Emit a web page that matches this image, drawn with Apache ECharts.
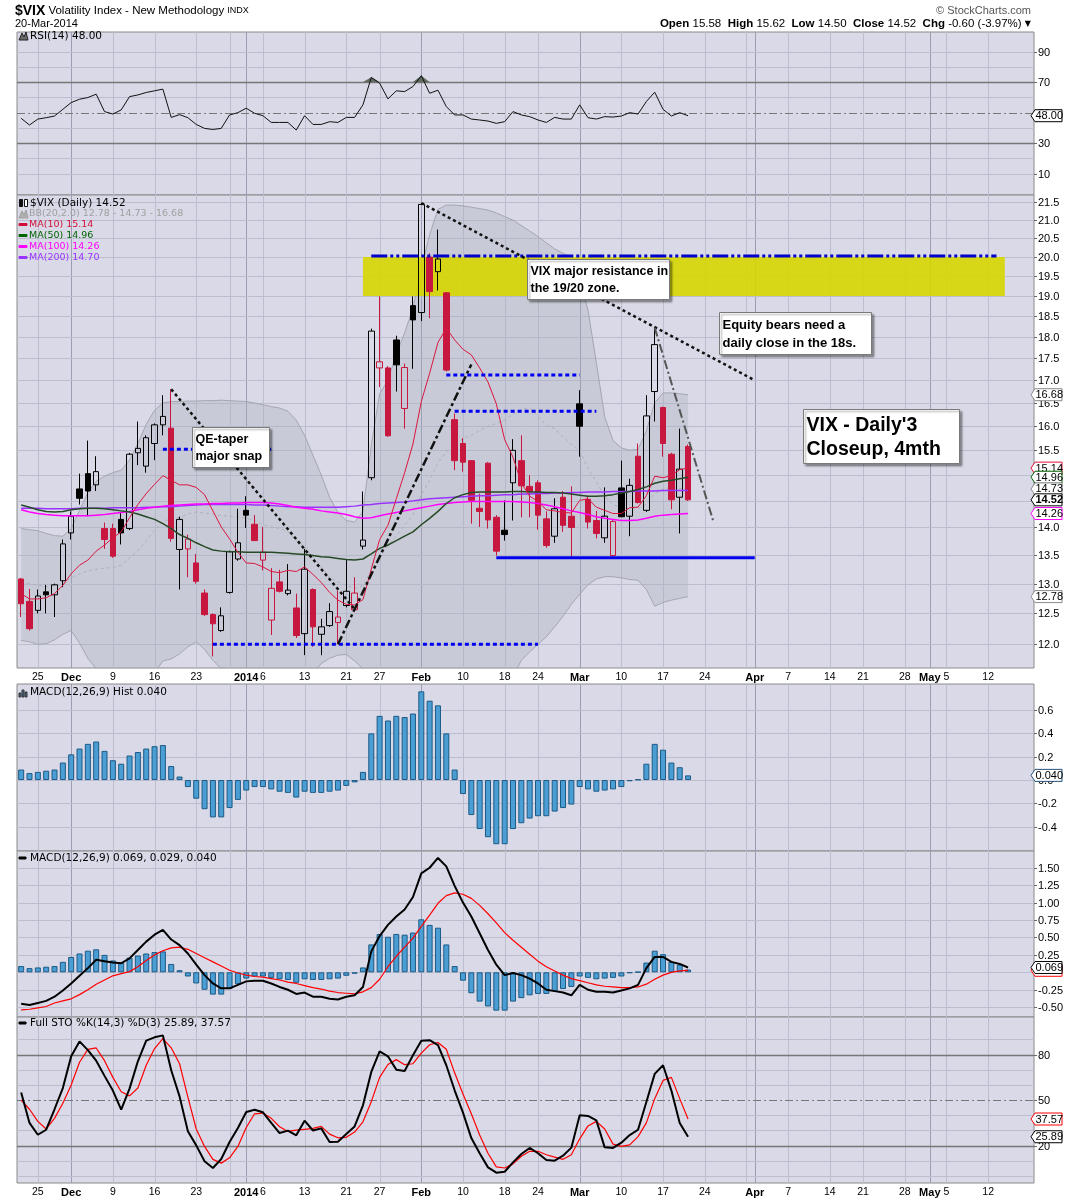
<!DOCTYPE html>
<html><head><meta charset="utf-8">
<script src="https://cdn.jsdelivr.net/npm/echarts@6/dist/echarts.min.js"></script>
<style>html,body{margin:0;padding:0;background:#fff}#c{width:1075px;height:1200px}</style>
</head><body><div id="c"></div><script>
// ---------------- DATA ----------------
const dates = [
'2013-11-21','2013-11-22','2013-11-25','2013-11-26','2013-11-27','2013-11-29',
'2013-12-02','2013-12-03','2013-12-04','2013-12-05','2013-12-06',
'2013-12-09','2013-12-10','2013-12-11','2013-12-12','2013-12-13',
'2013-12-16','2013-12-17','2013-12-18','2013-12-19','2013-12-20',
'2013-12-23','2013-12-24','2013-12-26','2013-12-27','2013-12-30','2013-12-31',
'2014-01-02','2014-01-03',
'2014-01-06','2014-01-07','2014-01-08','2014-01-09','2014-01-10',
'2014-01-13','2014-01-14','2014-01-15','2014-01-16','2014-01-17',
'2014-01-21','2014-01-22','2014-01-23','2014-01-24',
'2014-01-27','2014-01-28','2014-01-29','2014-01-30','2014-01-31',
'2014-02-03','2014-02-04','2014-02-05','2014-02-06','2014-02-07',
'2014-02-10','2014-02-11','2014-02-12','2014-02-13','2014-02-14',
'2014-02-18','2014-02-19','2014-02-20','2014-02-21',
'2014-02-24','2014-02-25','2014-02-26','2014-02-27','2014-02-28',
'2014-03-03','2014-03-04','2014-03-05','2014-03-06','2014-03-07',
'2014-03-10','2014-03-11','2014-03-12','2014-03-13','2014-03-14',
'2014-03-17','2014-03-18','2014-03-19','2014-03-20','2014-03-21',
'2014-03-24','2014-03-25','2014-03-26','2014-03-27','2014-03-28',
'2014-03-31','2014-04-01','2014-04-02','2014-04-03','2014-04-04',
'2014-04-07','2014-04-08','2014-04-09','2014-04-10','2014-04-11',
'2014-04-14','2014-04-15','2014-04-16','2014-04-17',
'2014-04-21','2014-04-22','2014-04-23','2014-04-24','2014-04-25',
'2014-04-28','2014-04-29','2014-04-30','2014-05-01','2014-05-02',
'2014-05-05','2014-05-06','2014-05-07','2014-05-08','2014-05-09',
'2014-05-12','2014-05-13','2014-05-14','2014-05-15','2014-05-16',
'2014-05-19'];

const opens = [13.08,12.70,12.55,12.86,12.81,13.05,13.90,14.73,15.03,14.81,
13.98,13.98,14.15,13.98,15.45,15.18,15.64,16.03,15.96,13.60,
13.61,13.36,12.84,12.48,12.22,12.85,13.43,14.32,14.06,13.41,
12.39,13.03,12.83,12.59,12.17,12.90,12.16,12.30,12.35,12.63,
12.56,13.66,14.95,17.28,17.28,17.93,16.38,18.76,18.59,20.00,
19.62,19.08,16.14,15.64,15.29,14.36,15.24,14.19,13.95,14.85,
15.29,14.78,14.85,14.16,13.84,14.57,14.21,16.48,14.53,14.13,
13.81,13.49,14.75,14.21,15.38,14.32,16.75,16.40,15.42,14.57,
15.58];
const highs = [13.10,12.91,12.90,12.98,13.00,13.78,14.30,15.03,15.70,15.38,
14.09,14.07,14.29,15.45,16.10,15.81,16.06,16.67,16.80,14.20,
13.87,13.52,12.90,12.50,12.60,13.58,14.35,14.59,14.23,14.01,
13.27,13.24,13.34,12.83,13.61,12.92,12.41,12.67,12.88,13.41,
13.11,14.68,18.20,18.99,17.32,18.03,17.38,18.99,21.48,20.10,
20.74,19.10,16.27,15.75,15.30,14.64,15.26,14.23,14.51,15.73,
15.81,15.00,14.90,14.30,14.55,14.69,14.78,16.78,14.60,14.31,
14.76,14.15,15.29,14.93,15.64,16.67,18.22,16.42,15.45,15.95,
15.62];
const lows = [12.44,12.22,12.50,12.50,12.44,12.94,13.78,14.43,14.21,14.69,
13.61,13.45,13.69,13.95,15.20,15.05,15.30,15.81,13.74,12.90,
13.11,13.00,12.46,11.81,12.20,12.83,13.40,13.99,13.76,13.23,
12.15,12.85,12.80,12.10,11.83,11.96,11.83,12.28,12.01,12.60,
12.55,13.60,14.90,16.85,15.78,16.75,15.95,17.26,18.38,18.45,
19.14,17.20,15.10,15.07,14.07,14.01,13.98,13.49,13.76,14.13,
14.19,14.19,13.96,13.63,13.72,13.92,13.47,15.37,13.98,13.80,
13.72,13.45,14.19,13.84,14.45,14.29,16.10,15.37,14.34,13.89,
14.50];
const closes = [12.66,12.25,12.79,12.81,12.98,13.70,14.21,14.55,14.69,15.07,
13.78,13.48,13.90,15.42,15.54,15.76,16.03,16.21,13.80,14.15,
13.79,13.04,12.48,12.33,12.46,13.56,13.72,14.23,13.76,13.55,
12.92,12.87,12.89,12.14,13.25,12.28,12.28,12.53,12.44,12.87,
12.84,13.77,18.14,17.42,15.80,17.35,17.29,18.41,21.44,19.11,
19.95,17.23,15.29,15.26,14.51,14.30,14.14,13.57,13.87,15.50,
14.79,14.68,14.23,13.67,14.35,14.04,14.00,16.00,14.10,13.89,
14.21,14.11,14.20,14.80,14.47,16.22,17.82,15.64,14.52,15.12,
14.52];
const closeBeforeFirst = 13.40;

const ma10 = [12.83,12.74,12.74,12.76,12.83,12.97,13.17,13.32,13.41,13.57,
13.68,13.81,13.92,14.18,14.43,14.64,14.82,14.99,14.90,14.81,
14.81,14.76,14.62,14.31,14.01,13.79,13.55,13.36,13.35,13.29,
13.21,13.19,13.23,13.21,13.29,13.16,13.02,12.85,12.72,12.65,
12.64,12.73,13.25,13.78,14.04,14.54,15.05,15.63,16.53,17.16,
17.87,18.21,17.93,17.71,17.58,17.28,16.96,16.48,15.72,15.36,
14.85,14.59,14.49,14.33,14.31,14.28,14.27,14.51,14.54,14.38,
14.32,14.26,14.26,14.37,14.38,14.60,14.98,14.95,14.99,15.11,
15.14];
const ma50 = [14.42,14.38,14.33,14.30,14.29,14.30,14.33,14.35,14.36,14.36,
14.35,14.33,14.31,14.29,14.25,14.20,14.15,14.07,13.98,13.87,
13.80,13.72,13.65,13.59,13.57,13.56,13.56,13.55,13.55,13.55,
13.55,13.54,13.53,13.52,13.51,13.49,13.47,13.46,13.44,13.42,
13.41,13.43,13.52,13.62,13.68,13.76,13.84,13.92,14.05,14.17,
14.30,14.45,14.56,14.62,14.66,14.67,14.67,14.67,14.67,14.68,
14.68,14.67,14.67,14.66,14.66,14.65,14.63,14.61,14.59,14.59,
14.60,14.62,14.65,14.68,14.72,14.77,14.84,14.88,14.90,14.93,
14.96];
const ma100 = [14.33,14.29,14.26,14.24,14.23,14.22,14.22,14.22,14.22,14.23,
14.24,14.26,14.28,14.30,14.33,14.36,14.38,14.40,14.41,14.42,
14.43,14.44,14.44,14.45,14.45,14.46,14.46,14.47,14.47,14.47,
14.46,14.44,14.41,14.38,14.36,14.34,14.31,14.29,14.27,14.24,
14.20,14.17,14.18,14.22,14.25,14.28,14.31,14.34,14.37,14.40,
14.43,14.45,14.47,14.48,14.49,14.49,14.49,14.49,14.49,14.49,
14.48,14.47,14.45,14.42,14.39,14.35,14.31,14.28,14.24,14.20,
14.17,14.15,14.13,14.13,14.14,14.17,14.21,14.23,14.24,14.25,
14.26];
const ma200 = [14.36,14.36,14.36,14.35,14.35,14.35,14.35,14.36,14.36,14.36,
14.36,14.37,14.37,14.37,14.37,14.38,14.38,14.39,14.39,14.40,
14.41,14.42,14.43,14.43,14.43,14.43,14.43,14.43,14.42,14.42,
14.41,14.40,14.39,14.39,14.38,14.38,14.38,14.38,14.38,14.39,
14.40,14.42,14.43,14.45,14.46,14.47,14.48,14.50,14.52,14.54,
14.55,14.56,14.57,14.58,14.59,14.60,14.60,14.61,14.62,14.62,
14.63,14.63,14.64,14.64,14.65,14.65,14.66,14.66,14.67,14.67,
14.67,14.68,14.68,14.68,14.69,14.69,14.69,14.70,14.70,14.70,
14.70];
const bbMid = [13.02,13.00,12.97,12.95,12.96,13.00,13.10,13.17,13.22,13.25,
13.27,13.28,13.32,13.45,13.58,13.75,13.95,14.12,14.15,14.19,
14.25,14.29,14.27,14.25,14.22,14.21,14.19,14.17,14.13,14.05,
14.01,13.98,13.93,13.76,13.65,13.47,13.29,13.10,13.03,12.97,
12.92,12.96,13.24,13.50,13.66,13.85,14.03,14.24,14.62,14.90,
15.25,15.47,15.59,15.75,15.81,15.91,16.00,16.06,16.13,16.26,
16.36,16.40,16.21,16.02,15.95,15.78,15.62,15.50,15.13,14.87,
14.58,14.43,14.37,14.35,14.35,14.44,14.63,14.73,14.76,14.74,
14.73];
const bbUpper = [13.98,13.96,13.94,13.89,13.85,13.84,13.98,14.32,14.66,14.88,
14.98,15.05,15.10,15.30,15.64,16.04,16.34,16.50,16.53,16.53,
16.54,16.54,16.55,16.55,16.56,16.55,16.54,16.53,16.50,16.46,
16.42,16.39,16.32,16.13,15.81,15.40,15.00,14.57,14.28,14.13,
14.10,14.30,15.60,16.70,17.00,17.60,18.10,18.70,19.70,20.60,
21.30,21.42,21.42,21.40,21.36,21.32,21.28,21.20,21.10,21.00,
20.85,20.70,20.55,20.38,20.22,20.10,20.00,19.40,18.65,17.40,
16.20,15.70,15.55,15.50,15.52,15.90,16.50,16.72,16.72,16.70,
16.68];
const bbLower = [12.06,12.04,12.00,12.01,12.07,12.16,12.22,12.02,11.78,11.62,
11.56,11.51,11.54,11.60,11.52,11.46,11.56,11.74,11.77,11.85,
11.96,12.04,11.92,11.75,11.62,11.55,11.50,11.48,11.45,11.40,
11.40,11.40,11.40,11.40,11.45,11.55,11.70,11.78,11.83,11.84,
11.74,11.62,10.88,10.30,10.32,10.10,9.96,9.78,9.54,9.20,
9.20,9.52,9.76,10.10,10.26,10.50,10.72,10.92,11.16,11.50,
11.75,11.88,12.00,12.12,12.28,12.45,12.65,12.82,12.98,13.08,
13.12,13.12,13.10,13.07,13.06,12.90,12.62,12.68,12.72,12.75,
12.78];
const rsi = [46.3,41.9,45.8,46.7,47.8,52.2,56.6,58.8,59.9,62.1,
50.7,49.1,51.8,60.5,61.6,63.2,64.3,65.4,46.9,48.7,
46.7,42.3,39.7,39.0,39.7,48.5,50.0,52.9,49.6,48.0,
43.6,43.6,43.6,38.6,48.0,42.3,42.3,44.1,43.6,46.9,
46.9,55.1,73.1,69.3,59.0,64.3,63.8,67.1,74.2,62.7,
64.7,54.0,48.5,48.5,45.8,45.2,44.5,43.0,44.1,50.7,
48.5,47.4,45.2,43.6,46.9,45.8,45.8,55.1,46.7,45.8,
47.4,47.1,47.8,50.0,49.1,57.3,63.4,52.2,47.8,50.0,
48.0];
const rsiOverbought = 70;
const macdHist = [0.09,0.06,0.07,0.08,0.09,0.15,0.22,0.27,0.31,0.33,
0.25,0.17,0.14,0.21,0.24,0.27,0.29,0.30,0.12,0.03,
-0.06,-0.16,-0.25,-0.32,-0.32,-0.24,-0.17,-0.09,-0.06,-0.06,
-0.08,-0.10,-0.11,-0.15,-0.10,-0.11,-0.11,-0.10,-0.09,-0.05,
-0.02,0.07,0.40,0.55,0.51,0.55,0.54,0.57,0.76,0.68,
0.64,0.40,0.09,-0.12,-0.30,-0.42,-0.49,-0.55,-0.55,-0.42,
-0.37,-0.33,-0.31,-0.31,-0.27,-0.24,-0.21,-0.06,-0.08,-0.10,
-0.09,-0.08,-0.06,-0.01,0.005,0.14,0.31,0.26,0.15,0.11,
0.04];
const macdLine = [-0.45,-0.47,-0.44,-0.41,-0.35,-0.26,-0.16,-0.05,0.06,0.18,
0.16,0.14,0.13,0.20,0.32,0.44,0.54,0.61,0.47,0.39,
0.27,0.11,-0.04,-0.16,-0.23,-0.23,-0.18,-0.13,-0.12,-0.12,
-0.16,-0.21,-0.25,-0.31,-0.29,-0.35,-0.35,-0.38,-0.39,-0.35,
-0.33,-0.21,0.30,0.52,0.68,0.80,0.90,1.08,1.42,1.50,
1.64,1.52,1.24,1.00,0.80,0.56,0.32,0.11,-0.04,-0.01,
-0.04,-0.09,-0.16,-0.25,-0.27,-0.29,-0.33,-0.18,-0.25,-0.28,
-0.28,-0.29,-0.26,-0.23,-0.18,0.06,0.22,0.22,0.15,0.12,
0.069];
const macdSignal = [-0.54,-0.53,-0.51,-0.49,-0.44,-0.41,-0.38,-0.32,-0.25,-0.17,
-0.11,-0.05,-0.02,0.01,0.08,0.17,0.25,0.31,0.35,0.36,
0.33,0.27,0.21,0.15,0.09,0.03,-0.01,-0.04,-0.06,-0.07,
-0.09,-0.11,-0.14,-0.16,-0.19,-0.22,-0.24,-0.27,-0.29,-0.30,
-0.31,-0.28,-0.22,-0.10,0.08,0.23,0.36,0.49,0.66,0.82,
0.99,1.10,1.14,1.12,1.06,0.96,0.84,0.71,0.57,0.46,
0.36,0.26,0.16,0.08,0.02,-0.04,-0.09,-0.12,-0.15,-0.18,
-0.20,-0.21,-0.22,-0.22,-0.21,-0.17,-0.10,-0.04,0.00,0.02,
0.029];
const stoK = [55,35,27.2,30.5,44,58,79,88.7,83,76,
66,56.3,43.7,57.6,75.6,89.2,91.4,92.7,69.7,52.5,
29.5,20.2,9.7,5.3,11.2,22.4,31.6,42.2,43.7,42,
35,28.3,29.9,26.8,36.5,30,31.4,22.4,22.6,27.7,
32.7,46.6,68.6,82.2,78.9,70.1,69.2,79.6,89.2,89.5,
86.2,73,56.5,41.8,25,15,5.7,2.2,2.8,9,
14.5,18.5,15,10.5,10.1,13.4,18.7,40,39.6,36.7,
18.9,18.5,22,27,30.5,48.8,67.3,73,56.3,35,
25.89];
const stoD = [50,44,36,31,38,48,60,75,83.5,84.4,
76,65,55.5,52.8,58,73,84,90.5,84.5,74,
52,31,19.5,11,8.5,12,19.5,32,41,41.5,
38,32.5,29.4,30.2,30.8,31.4,32.7,27.6,25.2,25.5,
29,35.7,49,65,73.5,76.7,73.4,74,81,86.5,
88,83.5,68,54,41,27,15,6,5.3,8,
13,16.3,16.3,14,12.5,11,14,24.5,33,36,
31,21,19.5,20.5,26,35,51,63,65,51,
37.57];

// axis tick labels
const xLabelDates = ['2013-11-25','2013-12-02','2013-12-09','2013-12-16','2013-12-23','2014-01-02','2014-01-06','2014-01-13','2014-01-21','2014-01-27','2014-02-03','2014-02-10','2014-02-18','2014-02-24','2014-03-03','2014-03-10','2014-03-17','2014-03-24','2014-04-01','2014-04-07','2014-04-14','2014-04-21','2014-04-28','2014-05-01','2014-05-05','2014-05-12'];
const xLabelTexts = ['25','Dec','9','16','23','2014','6','13','21','27','Feb','10','18','24','Mar','10','17','24','Apr','7','14','21','28','May','5','12'];
const weekLineDates = ['2013-11-25','2013-12-09','2013-12-16','2013-12-23','2013-12-30','2014-01-06','2014-01-13','2014-01-21','2014-01-27','2014-02-10','2014-02-18','2014-02-24','2014-03-10','2014-03-17','2014-03-24','2014-03-31','2014-04-07','2014-04-14','2014-04-21','2014-04-28','2014-05-05','2014-05-12'];
const monthLineDates = ['2013-12-02','2014-01-02','2014-02-03','2014-03-03','2014-04-01','2014-05-01'];

const rsiTicks = [10,20,30,40,50,60,70,80,90];
const rsiTickLabels = [10,30,50,70,90];
const mainTicks = [12.0,12.5,13.0,13.5,14.0,14.5,15.0,15.5,16.0,16.5,17.0,17.5,18.0,18.5,19.0,19.5,20.0,20.5,21.0,21.5];
const mainTickLabels = [12.0,12.5,13.0,13.5,14.0,15.5,16.0,16.5,17.0,17.5,18.0,18.5,19.0,19.5,20.0,20.5,21.0,21.5];
const histTicks = [-0.4,-0.2,0,0.2,0.4,0.6];
const histTickLabels = [-0.4,-0.2,0,0.2,0.4,0.6];
const macdTicks = [-0.5,-0.25,0,0.25,0.5,0.75,1.0,1.25,1.5];
const macdTickLabels = [-0.5,-0.25,0,0.25,0.5,0.75,1.0,1.25,1.5];
const stoTicks = [0,10,20,30,40,50,60,70,80,90];
const stoTickLabels = [20,50,80];

// annotations drawn on the price panel: [fromDate, fromValue, toDate, toValue, style]
const trendLines = [
 ['2013-12-17', 15.52, '2014-01-07', 15.52, 'blueDots'],
 ['2013-12-26', 12.00, '2014-02-24', 12.00, 'blueDots'],
 ['2014-02-06', 17.12, '2014-03-03', 17.12, 'blueDots'],
 ['2014-02-07', 16.32, '2014-03-05', 16.32, 'blueDots'],
 ['2014-02-14', 13.45, '2014-04-01', 13.45, 'blueSolid'],
 ['2014-01-24', 20.03, '2014-05-13', 20.03, 'blueDashDot'],
 ['2013-12-18', 16.80, '2014-01-22', 12.57, 'blackDots'],
 ['2014-01-17', 12.00, '2014-02-11', 17.36, 'blackDashDot'],
 ['2014-02-03', 21.48, '2014-04-01', 17.00, 'blackDots'],
 ['2014-03-14', 18.22, '2014-03-25', 14.13, 'greyDashDot']
];
const resistanceZone = ['2014-01-23', 19.0, '2014-05-14', 20.0];

// ---------------- STYLES ----------------
const RED = '#c8173f';
const BG = '#d9d9e7';
const GRID_LIGHT = '#bdbdd0';
const TREND_STYLES = {
  blueDots: {stroke:'#0000f0', lineWidth:3, lineDash:[4,3]},
  blueSolid: {stroke:'#0000f0', lineWidth:3},
  blueDashDot: {stroke:'#0000cc', lineWidth:3, lineDash:[16,3,3,3,3,3]},
  blackDots: {stroke:'#111', lineWidth:2.5, lineDash:[3,3]},
  blackDashDot: {stroke:'#111', lineWidth:2.5, lineDash:[9,3,3,3]},
  greyDashDot: {stroke:'#555', lineWidth:2, lineDash:[9,3,2,3]}
};
const TREND_KEYS = Object.keys(TREND_STYLES);
const LINE_KINDS = [
  {stroke:GRID_LIGHT, lineWidth:1},
  {stroke:'#777', lineWidth:1.5},
  {stroke:'#777', lineWidth:1, lineDash:[8,3,2,3]}
];

const GRIDS = [
  {top:32, height:163},
  {top:195, height:473},
  {top:684, height:167},
  {top:851, height:166},
  {top:1017, height:166}
];
const YR = [[-3.9,102.8],[11.631,21.708],[-0.608,0.823],[-0.641,1.740],[-4.6,104.8]];
const YREF = [50, 15, 0, 0, 50];

const labelMap = new Map(xLabelDates.map((d,i)=>[d, xLabelTexts[i]]));

// ---------------- BUILD ----------------
const grid = GRIDS.map(g=>({left:17, width:1017, top:g.top, height:g.height, show:true, backgroundColor:BG, borderColor:'#8a8a8a', borderWidth:1}));
const xAxis = GRIDS.map((g,gi)=>({
  type:'category', gridIndex:gi, data:dates, boundaryGap:true,
  axisLine:{show:false}, axisTick:{show:false}, splitLine:{show:false},
  axisLabel:{show: gi===1 || gi===4, interval:(idx,val)=>labelMap.has(val), margin:4,
    formatter:(v)=>{const t=labelMap.get(v)||''; return /^[A-Za-z]/.test(t)||t==='2014' ? '{b|'+t+'}' : t;},
    color:'#000', fontSize:10.5, fontFamily:'Liberation Sans',
    rich:{b:{fontWeight:'bold', fontSize:11, fontFamily:'Liberation Sans', color:'#000'}}}
}));
const yAxis = GRIDS.map((g,gi)=>({
  type: gi===1 ? 'log' : 'value', logBase:10, gridIndex:gi, position:'right', show:false,
  min:YR[gi][0], max:YR[gi][1], splitLine:{show:false}
}));

function vGridSeries(gi){
  const rows = weekLineDates.map(d=>[d, YREF[gi], 0]).concat(monthLineDates.map(d=>[d, YREF[gi], 1]));
  return {type:'custom', xAxisIndex:gi, yAxisIndex:gi, z:1, silent:true, data:rows, encode:{x:0,y:1},
    renderItem:(params, api)=>{
      const cs = params.coordSys;
      const x = Math.round(api.coord([api.value(0), api.value(1)])[0]) + 0.5;
      return {type:'line', shape:{x1:x,y1:cs.y,x2:x,y2:cs.y+cs.height}, style:{stroke: api.value(2)?'#9c9cb3':GRID_LIGHT, lineWidth:1}};
    }};
}
// horizontal grid lines + right-hand value labels, placed through the axis scale
function hGridSeries(gi, ticks, labels, specials, fmt){
  const rows = ticks.map(v=>{
    const sp = specials[v];
    return [dates[0], v, sp===undefined?0:sp, labels.indexOf(v)>=0?1:0];
  });
  return {type:'custom', xAxisIndex:gi, yAxisIndex:gi, z:1.2, silent:true, clip:false, data:rows, encode:{x:0,y:1},
    renderItem:(params, api)=>{
      const cs = params.coordSys;
      const v = api.value(1);
      const y = Math.round(api.coord([api.value(0), v])[1]) + 0.5;
      const kids = [{type:'line', shape:{x1:cs.x, y1:y, x2:cs.x+cs.width, y2:y}, style:LINE_KINDS[api.value(2)]}];
      if (api.value(3)) {
        kids.push({type:'line', shape:{x1:cs.x+cs.width, y1:y, x2:cs.x+cs.width+3, y2:y}, style:{stroke:'#666', lineWidth:1}});
        kids.push({type:'text', x:cs.x+cs.width+4, y:y, style:{text:fmt(v), fill:'#000', fontSize:11, fontFamily:'Liberation Sans', textAlign:'left', align:'left', textVerticalAlign:'middle', verticalAlign:'middle'}});
      }
      return {type:'group', children:kids};
    }};
}

const candleData = opens.map((o,i)=>{
  const c = closes[i];
  const prev = i ? closes[i-1] : closeBeforeFirst;
  const col = c < prev ? RED : '#000';
  const fill = c > o ? 'rgba(0,0,0,0)' : col;
  return {value:[o, c, lows[i], highs[i]], itemStyle:{color:fill, color0:fill, borderColor:col, borderColor0:col, borderColorDoji:col, borderWidth:1}};
});

const series = [];
for (let g=0; g<5; g++) series.push(vGridSeries(g));
series.push(hGridSeries(0, rsiTicks, rsiTickLabels, {30:1, 70:1, 50:2}, v=>String(v)));
series.push(hGridSeries(1, mainTicks, mainTickLabels, {}, v=>v.toFixed(1)));
series.push(hGridSeries(2, histTicks, histTickLabels, {}, v=>v.toFixed(1)));
series.push(hGridSeries(3, macdTicks, macdTickLabels, {}, v=>v.toFixed(2)));
series.push(hGridSeries(4, stoTicks, stoTickLabels, {20:1, 80:1, 50:2}, v=>String(v)));

// RSI (with shaded overbought excursions)
series.push({type:'line', xAxisIndex:0, yAxisIndex:0, data:rsi.map(()=>rsiOverbought), stack:'ob', symbol:'none', z:2, silent:true, lineStyle:{opacity:0}});
series.push({type:'line', xAxisIndex:0, yAxisIndex:0, data:rsi.map(v=>Math.max(v-rsiOverbought,0)), stack:'ob', symbol:'none', z:2, silent:true, lineStyle:{opacity:0}, areaStyle:{color:'#5f6a60', opacity:1}});
series.push({type:'line', xAxisIndex:0, yAxisIndex:0, data:rsi, symbol:'none', z:3, lineStyle:{color:'#111', width:1}, silent:true});
// Bollinger band
series.push({type:'line', xAxisIndex:1, yAxisIndex:1, data:bbLower, stack:'bb', symbol:'none', z:2, silent:true, lineStyle:{color:'#a3a7b0', width:1}});
series.push({type:'line', xAxisIndex:1, yAxisIndex:1, data:bbUpper.map((u,i)=>+(u-bbLower[i]).toFixed(3)), stack:'bb', symbol:'none', z:2, silent:true, lineStyle:{color:'#a3a7b0', width:1}, areaStyle:{color:'rgba(163,173,183,0.45)'}});
series.push({type:'line', xAxisIndex:1, yAxisIndex:1, data:bbMid, symbol:'none', z:2.2, silent:true, lineStyle:{color:'#aeb0ba', width:1, type:[3,3]}});
// resistance zone
series.push({type:'custom', xAxisIndex:1, yAxisIndex:1, z:2.5, silent:true, data:[resistanceZone], encode:{x:[0,2], y:[1,3]},
  renderItem:(p, api)=>{
    const a = api.coord([api.value(0), api.value(3)]);
    const b = api.coord([api.value(2), api.value(1)]);
    return {type:'rect', shape:{x:a[0], y:a[1], width:b[0]-a[0], height:b[1]-a[1]}, style:{fill:'rgba(214,214,0,0.9)'}};
  }});
// candles
series.push({type:'candlestick', xAxisIndex:1, yAxisIndex:1, data:candleData, barWidth:6, z:3, silent:true});
// moving averages
series.push({type:'line', xAxisIndex:1, yAxisIndex:1, data:ma200, symbol:'none', z:4, silent:true, lineStyle:{color:'#9933ff', width:1.5}});
series.push({type:'line', xAxisIndex:1, yAxisIndex:1, data:ma100, symbol:'none', z:4, silent:true, lineStyle:{color:'#ff00ff', width:1.5}});
series.push({type:'line', xAxisIndex:1, yAxisIndex:1, data:ma50, symbol:'none', z:4, silent:true, lineStyle:{color:'#264a26', width:1.5}});
series.push({type:'line', xAxisIndex:1, yAxisIndex:1, data:ma10, symbol:'none', z:4, silent:true, lineStyle:{color:'#dc1440', width:1}});
// trend lines
series.push({type:'custom', xAxisIndex:1, yAxisIndex:1, z:5, silent:true, clip:false,
  data: trendLines.map(t=>[t[0], t[1], t[2], t[3], TREND_KEYS.indexOf(t[4])]), encode:{x:[0,2], y:[1,3]},
  renderItem:(p, api)=>{
    const a = api.coord([api.value(0), api.value(1)]);
    const b = api.coord([api.value(2), api.value(3)]);
    return {type:'line', shape:{x1:a[0], y1:a[1], x2:b[0], y2:b[1]}, style:Object.assign({}, TREND_STYLES[TREND_KEYS[api.value(4)]])};
  }});
// MACD histogram panel
const barStyle = {color:'#4a9ed3', borderColor:'#1c5a86', borderWidth:1};
series.push({type:'bar', xAxisIndex:2, yAxisIndex:2, data:macdHist, barWidth:6, z:3, silent:true, itemStyle:barStyle});
// MACD panel
series.push({type:'bar', xAxisIndex:3, yAxisIndex:3, data:macdHist, barWidth:6, z:2, silent:true, itemStyle:barStyle});
series.push({type:'line', xAxisIndex:3, yAxisIndex:3, data:macdSignal, symbol:'none', z:3, silent:true, lineStyle:{color:'#ff0000', width:1.2}});
series.push({type:'line', xAxisIndex:3, yAxisIndex:3, data:macdLine, symbol:'none', z:4, silent:true, lineStyle:{color:'#000', width:2}});
// STO panel
series.push({type:'line', xAxisIndex:4, yAxisIndex:4, data:stoD, symbol:'none', z:3, silent:true, lineStyle:{color:'#ff0000', width:1.2}});
series.push({type:'line', xAxisIndex:4, yAxisIndex:4, data:stoK, symbol:'none', z:4, silent:true, lineStyle:{color:'#000', width:2}});

const chart = echarts.init(document.getElementById('c'), null, {renderer:'canvas', width:1075, height:1200});
chart.setOption({animation:false, backgroundColor:'#fff', textStyle:{fontFamily:'Liberation Sans'}, grid, xAxis, yAxis, series});

// ---------------- TEXT / FLAGS ----------------
function T(x, y, text, o){
  o = o || {};
  const st = {text, fill:o.color||'#000', fontSize:o.size||11, fontFamily:o.family||'Liberation Sans', fontWeight:o.weight||'normal',
    textAlign:o.align||'left', align:o.align||'left', textVerticalAlign:o.va||'middle', verticalAlign:o.va||'middle'};
  if (o.rich) st.rich = o.rich;
  if (o.lineHeight) st.lineHeight = o.lineHeight;
  return {type:'text', x, y, z:o.z||60, silent:true, style:st};
}
function R(x, y, w, h, fill, stroke, o){
  o = o || {};
  return {type:'rect', z:o.z||55, silent:true, shape:{x, y, width:w, height:h}, style:Object.assign({fill, stroke, lineWidth:1}, o.style||{})};
}
const G = [];
const DV = 'DejaVu Sans';
// header
G.push(T(15, 11, '{a|$VIX} {b|Volatility Index - New Methodology} {c|INDX}', {rich:{a:{fontWeight:'bold', fontSize:14, fontFamily:'Liberation Sans'}, b:{fontSize:11.5, fontFamily:'Liberation Sans'}, c:{fontSize:9, fontFamily:'Liberation Sans'}}}));
G.push(T(15, 24, '20-Mar-2014', {size:11}));
G.push(T(1031, 11, '\u00a9 StockCharts.com', {size:11, align:'right', color:'#555'}));
G.push(T(1031, 23.5, '{b|Open} 15.58  {b|High} 15.62  {b|Low} 14.50  {b|Close} 14.52  {b|Chg} -0.60 (-3.97%) {r|\u25BC}', {size:11.5, align:'right',
  rich:{b:{fontWeight:'bold', fontSize:11.5, fontFamily:'Liberation Sans'}, r:{fontSize:8, color:'#8b1a1a', fontFamily:DV}}}));

// panel titles
G.push({type:'polygon', z:60, silent:true, shape:{points:[[19,40],[22,33],[24,37],[26,32],[28,40]]}, style:{fill:'#6a6a6a', stroke:'#222', lineWidth:1}});
G.push(T(30, 36.5, 'RSI(14) 48.00', {family:DV, size:10.5}));
G.push(R(19.5, 199.5, 3, 7, '#111', '#111'));
G.push(R(24.5, 199.5, 3, 7, '#fff', '#111'));
G.push(T(30, 203, '$VIX (Daily) 14.52', {family:DV, size:10.5}));
G.push({type:'polygon', z:60, silent:true, shape:{points:[[19,218],[22,211],[24,215],[26,210],[28,218]]}, style:{fill:'#b0b0b0', stroke:'#a0a0a0', lineWidth:1}});
G.push(T(29, 213.5, 'BB(20,2.0) 12.78 - 14.73 - 16.68', {family:DV, size:9.5, color:'#a0a0a0'}));
const maLegend = [['MA(10) 15.14','#d0103a',224.5],['MA(50) 14.96','#006400',235.5],['MA(100) 14.26','#ff00ff',246.5],['MA(200) 14.70','#9933ff',257.5]];
maLegend.forEach(m=>{ G.push(R(19, m[2]-1, 8, 2, m[1], m[1])); G.push(T(29, m[2], m[0], {family:DV, size:9.5, color:m[1]})); });
[[19,693,2,4],[22,690,2,7],[25,692,2,5]].forEach(b=>G.push(R(b[0], b[1], b[2], b[3], '#4a6a8a', '#333')));
G.push(T(30, 692, 'MACD(12,26,9) Hist 0.040', {family:DV, size:10.5}));
G.push(R(19, 857, 7, 2, '#000', '#000'));
G.push(T(30, 858, '{k|MACD(12,26,9) 0.069,} {r|0.029,} {b|0.040}', {family:DV, size:10.5,
  rich:{k:{fontFamily:DV, fontSize:10.5, color:'#000'}, r:{fontFamily:DV, fontSize:10.5, color:'#ff0000'}, b:{fontFamily:DV, fontSize:10.5, color:'#3a95d5'}}}));
G.push(R(19, 1022, 7, 2, '#000', '#000'));
G.push(T(30, 1023, '{k|Full STO %K(14,3) %D(3) 25.89,} {r|37.57}', {family:DV, size:10.5,
  rich:{k:{fontFamily:DV, fontSize:10.5, color:'#000'}, r:{fontFamily:DV, fontSize:10.5, color:'#ff0000'}}}));

// annotation boxes
function box(x, y, w, h, text, size, lh, ty){
  G.push(R(x, y, w, h, '#fff', '#7a7a7a', {z:70, style:{shadowColor:'rgba(0,0,0,0.35)', shadowOffsetX:2, shadowOffsetY:2, shadowBlur:2}}));
  G.push(T(x+3, ty, text, {size, weight:'bold', lineHeight:lh, va:'top', z:71}));
}
box(192.5, 427.5, 77, 40, 'QE-taper\nmajor snap', 12.5, 17, 431.5);
box(527.5, 259.5, 142, 40, 'VIX major resistance in\nthe 19/20 zone.', 12.5, 17.3, 263);
box(719.5, 312.5, 152, 42, 'Equity bears need a\ndaily close in the 18s.', 13, 17.6, 317);
box(803.5, 409.5, 156, 54, "VIX - Daily'3\nCloseup, 4mth", 19.5, 24.3, 413);

// value flags on the right-hand axes (each later flag stacked above the previous)
let flagZ = 80;
function flag(axisIdx, value, text, border, bold){
  const y = chart.convertToPixel({yAxisIndex:axisIdx}, value);
  const x0 = 1031, h = 12;
  flagZ += 2;
  G.push({type:'polygon', z:flagZ, silent:true, shape:{points:[[x0,y],[x0+4,y-h/2],[x0+31,y-h/2],[x0+31,y+h/2],[x0+4,y+h/2]]}, style:{fill:'#fff', stroke:border, lineWidth:1}});
  G.push(T(x0+4.5, y+0.5, text, {size:11, weight: bold?'bold':'normal', z:flagZ+1}));
}
flag(0, 48.00, '48.00', '#000');
flag(1, 16.68, '16.68', '#8a8a8a');
flag(1, 15.14, '15.14', '#e0103a');
flag(1, 14.96, '14.96', '#006400');
flag(1, 12.78, '12.78', '#8a8a8a');
flag(1, 14.26, '14.26', '#ff00ff');
flag(1, 14.73, '14.73', '#8a8a8a');
flag(1, 14.52, '14.52', '#000', true);
flag(2, 0.040, '0.040', '#24527a');
flag(3, 0.029, '0.029', '#ff0000');
flag(3, 0.069, '0.069', '#000');
flag(4, 37.57, '37.57', '#ff0000');
flag(4, 25.89, '25.89', '#000');

chart.setOption({graphic:{elements:G}});
</script></body></html>
